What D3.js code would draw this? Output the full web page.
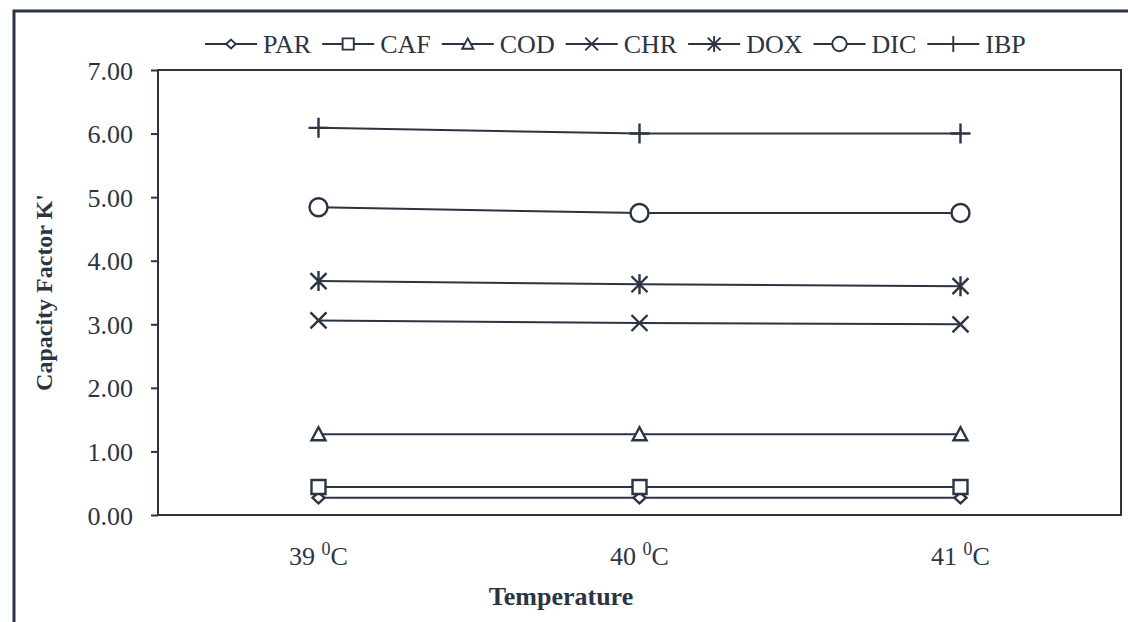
<!DOCTYPE html>
<html>
<head>
  <meta charset="UTF-8">
  <title>Capacity Factor vs Temperature</title>
  <style>
    body { margin: 0; background: #fff; }
    svg text { font-family: 'Liberation Serif', 'Times New Roman', serif; fill: #2b3444; }
    .axis path, .axis line { stroke: #2b3444; }
  </style>
</head>
<body>
  <script src="https://cdnjs.cloudflare.com/ajax/libs/d3/7.8.5/d3.min.js"></script>
  <script>
// data
var temps = ["39", "40", "41"];
var seriesNames = ["PAR", "CAF", "COD", "CHR", "DOX", "DIC", "IBP"];
var PAR = [0.27, 0.27, 0.27];
var CAF = [0.44, 0.44, 0.44];
var COD = [1.27, 1.27, 1.27];
var CHR = [3.06, 3.02, 3.00];
var DOX = [3.68, 3.63, 3.60];
var DIC = [4.84, 4.75, 4.75];
var IBP = [6.09, 6.00, 6.00];
var yTicks = [0, 1, 2, 3, 4, 5, 6, 7];

var seriesValues = [PAR, CAF, COD, CHR, DOX, DIC, IBP];
var ink = "#2b3444";

var width = 1128, height = 622;
var margin = {top: 70, right: 7, bottom: 107, left: 158};
var w = width - margin.left - margin.right,
    h = height - margin.top - margin.bottom;

var svg = d3.select("body").append("svg")
    .attr("width", width)
    .attr("height", height);

// outer frame (runs off the picture on right / bottom)
svg.append("rect")
    .attr("x", 14).attr("y", 11)
    .attr("width", 1300).attr("height", 800)
    .attr("fill", "none").attr("stroke", ink).attr("stroke-width", 3);

var g = svg.append("g").attr("transform", "translate(" + margin.left + "," + margin.top + ")");

var x = d3.scalePoint().domain(temps).range([0, w]).padding(0.5);
var y = d3.scaleLinear().domain([0, 7]).range([h, 0]);

// plot frame
g.append("rect")
    .attr("width", w).attr("height", h)
    .attr("fill", "none").attr("stroke", ink).attr("stroke-width", 2);

// y axis
var yAxis = g.append("g").attr("class", "axis")
    .call(d3.axisLeft(y).tickValues(yTicks).tickFormat(d3.format(".2f")).tickSize(7).tickSizeOuter(0));
yAxis.select(".domain").remove();
yAxis.selectAll("line").attr("stroke-width", 2);
yAxis.selectAll("text")
    .attr("x", -25).attr("dy", "0.35em")
    .style("font-size", "26px").attr("fill", ink);

// x labels with superscript 0
var xl = g.selectAll(".xlab").data(temps).enter().append("text")
    .attr("class", "xlab")
    .attr("x", function(d) { return x(d); })
    .attr("y", h + 50)
    .attr("text-anchor", "middle")
    .style("font-size", "26px");
xl.append("tspan").text(function(d) { return d + " "; });
xl.append("tspan").attr("dy", -10).style("font-size", "18px").text("0");
xl.append("tspan").attr("dy", 10).text("C");

// axis titles
svg.append("text")
    .attr("x", 561).attr("y", 605)
    .attr("text-anchor", "middle")
    .style("font-size", "26px").style("font-weight", "bold")
    .text("Temperature");
svg.append("text")
    .attr("transform", "translate(52," + (margin.top + h / 2) + ") rotate(-90)")
    .attr("text-anchor", "middle")
    .style("font-size", "24px").style("font-weight", "bold")
    .text("Capacity Factor K'");

// marker shapes
function marker(sel, name) {
  var p;
  switch (name) {
    case "PAR": p = "M0,-5.5L6,0L0,5.5L-6,0Z"; break;
    case "CAF": p = "M-7,-7H7V7H-7Z"; break;
    case "COD": p = "M0,-7L7,6H-7Z"; break;
    case "CHR": p = "M-8,-8L8,8M-8,8L8,-8"; break;
    case "DOX": p = "M-8,-8L8,8M-8,8L8,-8M0,-10V10"; break;
    case "DIC": p = "M9,0A9,9 0 1,1 -9,0A9,9 0 1,1 9,0Z"; break;
    case "IBP": p = "M-10,0H10M0,-10V10"; break;
  }
  sel.append("path").attr("d", p)
    .attr("fill", name === "CHR" || name === "DOX" || name === "IBP" ? "none" : "#fff")
    .attr("stroke", ink).attr("stroke-width", 2.4);
}

var line = d3.line()
    .x(function(d, i) { return x(temps[i]); })
    .y(function(d) { return y(d); });

seriesNames.forEach(function(name, si) {
  var vals = seriesValues[si];
  g.append("path").datum(vals)
    .attr("d", line)
    .attr("fill", "none").attr("stroke", ink).attr("stroke-width", 2);
  vals.forEach(function(v, i) {
    g.append("g")
      .attr("transform", "translate(" + x(temps[i]) + "," + y(v) + ")")
      .call(marker, name);
  });
});

// legend
var legend = svg.append("g").attr("class", "legend");
var lx = 205, ly = 44;
seriesNames.forEach(function(name) {
  var it = legend.append("g").attr("transform", "translate(" + lx + "," + ly + ")");
  it.append("line").attr("x1", 0).attr("x2", 52)
    .attr("stroke", ink).attr("stroke-width", 2.2);
  it.append("g").attr("transform", "translate(26,0) scale(0.8)").call(marker, name);
  var t = it.append("text").attr("x", 58).attr("y", 9)
    .style("font-size", "26px").text(name);
  lx += 58 + t.node().getComputedTextLength() + 11;
});
  </script>
</body>
</html>
